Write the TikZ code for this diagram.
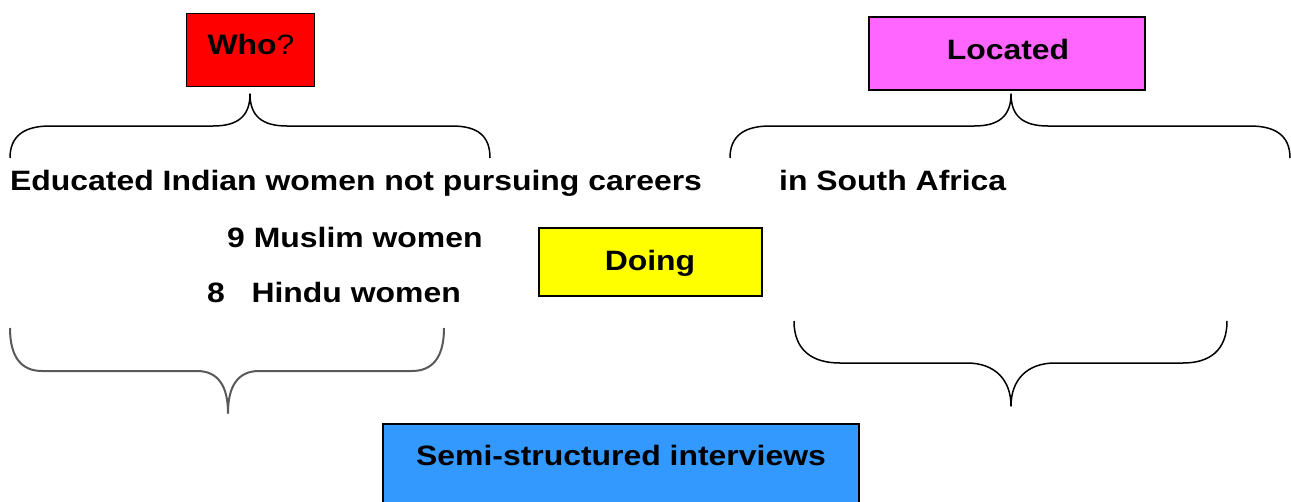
\documentclass[tikz,border=0pt]{standalone}
\usepackage{fontspec}
\setmainfont{Liberation Sans}[FakeStretch=1.14]
\definecolor{whored}{HTML}{FF0000}
\definecolor{locpink}{HTML}{FF66FF}
\definecolor{doyellow}{HTML}{FFFF00}
\definecolor{semiblue}{HTML}{3399FF}
\begin{document}
\begin{tikzpicture}[x=1pt,y=-1pt,
  box/.style={draw=black,line width=1.4pt,inner sep=0pt,minimum width=#1},
  txt/.style={inner sep=0pt,font=\fontsize{28}{33}\selectfont\bfseries},
  brace/.style={draw=black,line width=1.5pt,line join=round},
  softbrace/.style={draw=black!65,line width=2pt,line join=round}]
\useasboundingbox (0,0) rectangle (1291,501);

% coloured boxes
\node[box=128pt,minimum height=73pt,fill=whored]   (who)  at (250.5,50)   {};
\node[box=276pt,minimum height=73pt,fill=locpink]  (loc)  at (1007,53.5)  {};
\node[box=223pt,minimum height=68pt,fill=doyellow] (doing) at (650.5,262) {};
\node[box=476pt,minimum height=82pt,fill=semiblue] (semi) at (621,465)    {};

% box captions
\node[txt,anchor=base] (whot)  at (251,54)   {Who{\mdseries ?}};
\node[txt,anchor=base] (loct)  at (1008,59)  {Located};
\node[txt,anchor=base] (doingt) at (650,270) {Doing};
\node[txt,anchor=base] (semit) at (621,465)  {Semi-structured interviews};

% free text
\node[txt,anchor=base west] (edu)    at (10,190)  {Educated Indian women not pursuing careers};
\node[txt,anchor=base west] (sa)     at (779,190) {in South Africa};
\node[txt,anchor=base west] (muslim) at (227,247) {9 Muslim women};
\node[txt,anchor=base west] (hindu)  at (207,302) {8~~~Hindu women};

% upper braces, tips pointing up at the boxes
\coordinate (tipwho) at (250,94);
\draw[brace] (10,158) .. controls (10,136) and (24,126) .. (50,126) -- (213,126)
  .. controls (238,126) and (250,116) .. (tipwho)
  .. controls (250,116) and (262,126) .. (287,126) -- (452,126)
  .. controls (478,126) and (490,136) .. (490,158);
\coordinate (tiploc) at (1011,94);
\draw[brace] (730,158) .. controls (730,136) and (744,126) .. (770,126) -- (974,126)
  .. controls (999,126) and (1011,116) .. (tiploc)
  .. controls (1011,116) and (1023,126) .. (1048,126) -- (1250,126)
  .. controls (1276,126) and (1290,136) .. (1290,158);

% lower braces, tips pointing down
\coordinate (tipmw) at (228,413);
\draw[softbrace] (10,328) .. controls (10,358) and (22,371) .. (42,371) -- (197,371)
  .. controls (218,371) and (228,386) .. (tipmw)
  .. controls (228,386) and (238,371) .. (259,371) -- (412,371)
  .. controls (432,371) and (444,358) .. (444,328);
\coordinate (tipsa) at (1011,406);
\draw[brace] (794,321) .. controls (794,350) and (812,363) .. (840,363) -- (967,363)
  .. controls (995,363) and (1011,380) .. (tipsa)
  .. controls (1011,380) and (1027,363) .. (1055,363) -- (1183,363)
  .. controls (1210,363) and (1227,350) .. (1227,321);
\end{tikzpicture}
\end{document}
